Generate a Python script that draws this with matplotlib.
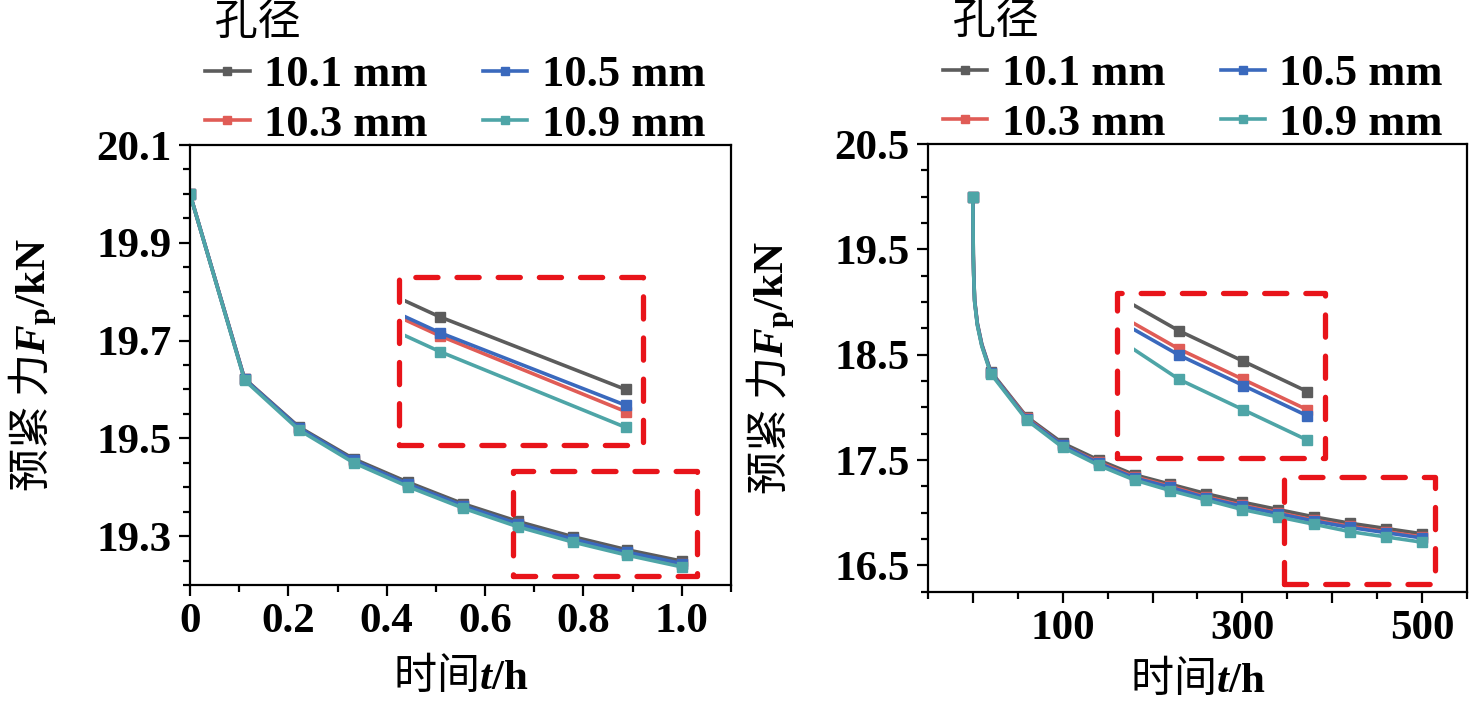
import matplotlib
matplotlib.use('Agg')
import matplotlib.pyplot as plt
from matplotlib.patches import Rectangle
from matplotlib.ticker import FixedLocator, MultipleLocator, FuncFormatter

plt.rcParams['font.family'] = ['Liberation Serif', 'Noto Sans CJK SC']
plt.rcParams['font.weight'] = 'bold'
plt.rcParams['mathtext.fontset'] = 'custom'
plt.rcParams['mathtext.rm'] = 'Liberation Serif'
plt.rcParams['mathtext.it'] = 'Liberation Serif:italic'
plt.rcParams['mathtext.bf'] = 'Liberation Serif:bold'
plt.rcParams['mathtext.bfit'] = 'Liberation Serif:italic:bold'

# hole diameter series (draw order: gray, red, blue, cyan)
labels = ['10.1 mm', '10.3 mm', '10.5 mm', '10.9 mm']
colors = ['#5c5c5c', '#e05c56', '#3a69bd', '#4ea5a7']

# 0-1 h
t_short = [0, 0.111, 0.222, 0.333, 0.444, 0.556, 0.667, 0.778, 0.889, 1.0]
f_short = [
    [20.0, 19.622, 19.523, 19.458, 19.410, 19.366, 19.330, 19.299, 19.272, 19.249],  # 10.1
    [20.0, 19.621, 19.520, 19.454, 19.405, 19.361, 19.324, 19.293, 19.266, 19.242],  # 10.3
    [20.0, 19.621, 19.521, 19.455, 19.406, 19.362, 19.325, 19.294, 19.267, 19.244],  # 10.5
    [20.0, 19.619, 19.517, 19.450, 19.401, 19.357, 19.319, 19.288, 19.261, 19.237],  # 10.9
]

# 0-500 h
t_long = [0, 0.5, 1, 2, 5, 10, 20, 60, 100, 140, 180, 220, 260, 300, 340, 380, 420, 460, 500]
f_long = [
    [20.0, 19.46, 19.26, 19.02, 18.80, 18.60, 18.34, 17.91, 17.66, 17.50, 17.36, 17.27, 17.18, 17.10, 17.03, 16.96, 16.90, 16.85, 16.80],
    [20.0, 19.45, 19.25, 19.01, 18.79, 18.59, 18.33, 17.90, 17.64, 17.48, 17.34, 17.25, 17.15, 17.07, 17.00, 16.93, 16.87, 16.82, 16.77],
    [20.0, 19.45, 19.25, 19.01, 18.79, 18.59, 18.33, 17.89, 17.64, 17.47, 17.33, 17.24, 17.14, 17.06, 16.99, 16.92, 16.86, 16.81, 16.76],
    [20.0, 19.44, 19.24, 19.00, 18.78, 18.58, 18.32, 17.88, 17.62, 17.45, 17.31, 17.21, 17.12, 17.03, 16.96, 16.89, 16.82, 16.77, 16.72],
]
marks_long = [0] + list(range(6, 19))

# zoomed regions (data coords) and inset views
zoom_short = [0.657, 19.219, 1.0315, 19.434]
zoom_long = [346.5, 16.32, 514.2, 17.338]
view_short = [0.868, 1.0105, 19.2314, 19.2847]
view_long = [392, 511, 16.690, 16.962]

FS = 31
CJK = 'Noto Sans CJK SC'

fig = plt.figure(figsize=(14.83, 7.04), dpi=100)
ax1 = fig.add_axes([0.1281, 0.169, 0.3648, 0.625])
ax2 = fig.add_axes([0.6257, 0.1595, 0.3635, 0.6359])


def style_axis(ax):
    for s in ax.spines.values():
        s.set_linewidth(1.6)
    ax.tick_params(which='major', direction='out', length=8, width=1.6, labelsize=FS, pad=5)
    ax.tick_params(which='minor', direction='out', length=5, width=1.6)


def red_box(ax, x0, y0, x1, y1, transform):
    ax.add_patch(Rectangle((x0, y0), x1 - x0, y1 - y0, transform=transform, fill=False,
                           edgecolor='#e8141a', linewidth=3.8, linestyle=(0, (4.2, 3.6)),
                           capstyle='round', joinstyle='round', zorder=6, clip_on=False))


# ---------------- left: 0-1 h ----------------
for f, c, lab in zip(f_short, colors, labels):
    ax1.plot(t_short, f, color=c, lw=2.6, marker='s', ms=6.5, label=lab)
ax1.set_xlim(0, 1.1)
ax1.set_ylim(19.2, 20.1)
ax1.xaxis.set_major_locator(MultipleLocator(0.2))
ax1.xaxis.set_minor_locator(MultipleLocator(0.1))
ax1.xaxis.set_major_formatter(FuncFormatter(lambda v, p: '0' if abs(v) < 1e-9 else '%.1f' % v))
ax1.yaxis.set_major_locator(FixedLocator([19.3, 19.5, 19.7, 19.9, 20.1]))
ax1.yaxis.set_minor_locator(MultipleLocator(0.05))
ax1.yaxis.set_major_formatter(FuncFormatter(lambda v, p: '%.1f' % v))
style_axis(ax1)

red_box(ax1, zoom_short[0], zoom_short[1], zoom_short[2], zoom_short[3], ax1.transData)
red_box(ax1, 0.3869, 0.3182, 0.8377, 0.7007, ax1.transAxes)
ins1 = ax1.inset_axes([0.3967, 0.3182, 0.441, 0.3825])
for f, c in zip(f_short, colors):
    ins1.plot(t_short, f, color=c, lw=2.6, marker='s', ms=6.5)
ins1.set_xlim(view_short[0], view_short[1])
ins1.set_ylim(view_short[2], view_short[3])
ins1.axis('off')

# ---------------- right: 0-500 h ----------------
for f, c, lab in zip(f_long, colors, labels):
    ax2.plot(t_long, f, color=c, lw=2.6, marker='s', ms=6.5, markevery=marks_long, label=lab)
ax2.set_xlim(-50, 550)
ax2.set_ylim(16.25, 20.5)
ax2.xaxis.set_major_locator(MultipleLocator(100))
ax2.xaxis.set_minor_locator(MultipleLocator(50))
ax2.xaxis.set_major_formatter(FuncFormatter(lambda v, p: '%d' % v if int(round(v)) in (100, 300, 500) else ''))
ax2.yaxis.set_major_locator(FixedLocator([16.5, 17.5, 18.5, 19.5, 20.5]))
ax2.yaxis.set_minor_locator(MultipleLocator(0.25))
ax2.yaxis.set_major_formatter(FuncFormatter(lambda v, p: '%.1f' % v))
style_axis(ax2)

red_box(ax2, zoom_long[0], zoom_long[1], zoom_long[2], zoom_long[3], ax2.transData)
red_box(ax2, 0.3502, 0.298, 0.7366, 0.6665, ax2.transAxes)
ins2 = ax2.inset_axes([0.3829, 0.298, 0.3537, 0.3686])
for f, c in zip(f_long, colors):
    ins2.plot(t_long, f, color=c, lw=2.6, marker='s', ms=6.5)
ins2.set_xlim(view_long[0], view_long[1])
ins2.set_ylim(view_long[2], view_long[3])
ins2.axis('off')

# labels and legends
for ax, xl_y in ((ax1, -0.16), (ax2, -0.148)):
    ax.set_xlabel(r'时间$\mathbfit{t}\mathbf{/h}$', fontsize=FS, fontweight='normal', fontfamily=CJK)
    ax.set_ylabel(r'预紧 力$\mathbfit{F}_{\mathbf{p}}\mathbf{/kN}$', fontsize=FS, fontweight='normal',
                  fontfamily=CJK)
    ax.yaxis.set_label_coords(-0.243, 0.5)
    ax.xaxis.set_label_coords(0.5, xl_y)
    leg = ax.legend(loc='lower left', bbox_to_anchor=(0.028, 1.0), ncol=2, frameon=False,
                    fontsize=32, title=' 孔径',
                    title_fontproperties={'size': 31, 'weight': 'normal', 'family': CJK},
                    handlelength=1.0, handletextpad=0.32, columnspacing=1.25,
                    labelspacing=0.22, borderpad=0.0, borderaxespad=0.0, markerscale=0.8)
    leg._legend_box.align = 'left'

fig.savefig('out.png', dpi=100)
